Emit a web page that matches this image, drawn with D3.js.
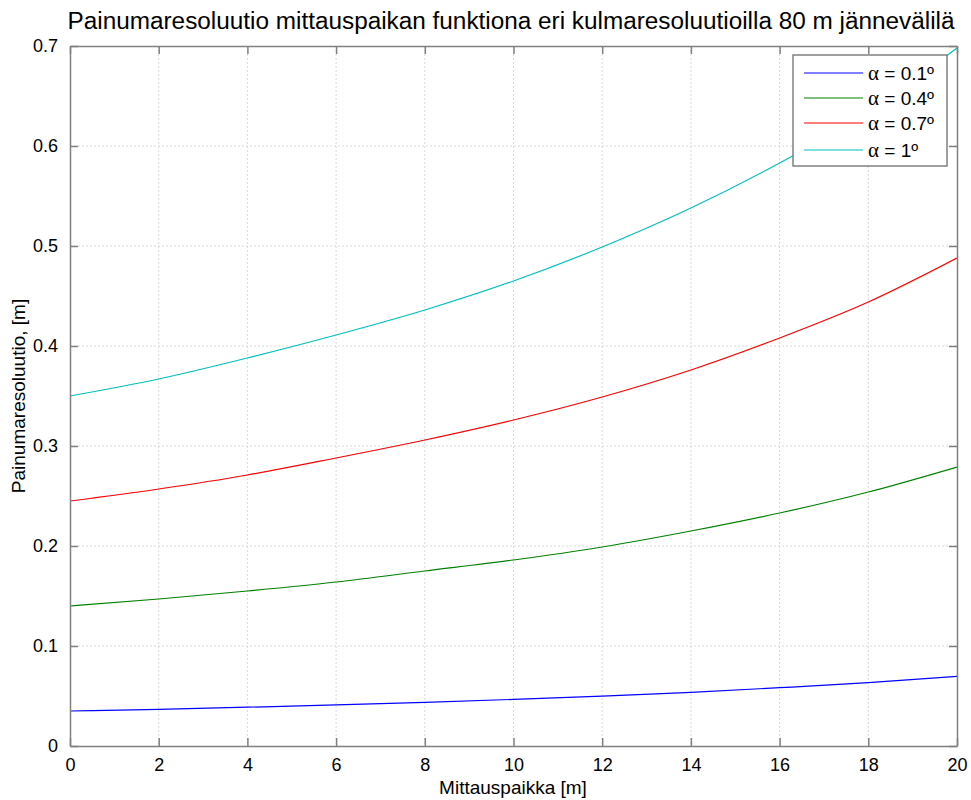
<!DOCTYPE html>
<html>
<head>
<meta charset="utf-8">
<script src="https://cdn.jsdelivr.net/npm/d3@7"></script>
<style>
  body { margin: 0; background: #fff; }
  svg { display: block; }
  text { font-family: "Liberation Sans", Arial, sans-serif; fill: #000; }
</style>
</head>
<body>
<svg id="chart" width="971" height="800"></svg>
<script>
const title = "Painumaresoluutio mittauspaikan funktiona eri kulmaresoluutioilla 80 m jännevälilä";
const xLabel = "Mittauspaikka [m]";
const yLabel = "Painumaresoluutio, [m]";
const xValues = [0, 2, 4, 6, 8, 10, 12, 14, 16, 18, 20];
const alpha01 = [0.035, 0.0367, 0.0388, 0.0411, 0.0437, 0.0466, 0.0499, 0.0537, 0.0583, 0.0634, 0.0697];
const alpha04 = [0.140, 0.147, 0.155, 0.164, 0.175, 0.186, 0.199, 0.215, 0.233, 0.254, 0.279];
const alpha07 = [0.245, 0.257, 0.271, 0.288, 0.306, 0.326, 0.349, 0.376, 0.408, 0.444, 0.488];
const alpha10 = [0.350, 0.367, 0.388, 0.411, 0.436, 0.465, 0.499, 0.538, 0.583, 0.634, 0.698];
const seriesSymbol = "α";
const seriesNames = [" = 0.1º", " = 0.4º", " = 0.7º", " = 1º"];
const seriesColors = ["#0000ff", "#008000", "#ff0000", "#00bfbf"];
const xTicks = [0, 2, 4, 6, 8, 10, 12, 14, 16, 18, 20];
const yTicks = [0, 0.1, 0.2, 0.3, 0.4, 0.5, 0.6, 0.7];

const series = [alpha01, alpha04, alpha07, alpha10];

const svg = d3.select("#chart");
const L = 70, R = 957, T = 46, B = 746;
const x = d3.scaleLinear().domain([0, 20]).range([L, R]);
const y = d3.scaleLinear().domain([0, 0.7]).range([B, T]);
const axisColor = "#808080";

// grid
const grid = svg.append("g");
grid.selectAll("line.gx").data(xTicks.slice(1, -1)).join("line")
  .attr("x1", d => x(d)).attr("x2", d => x(d)).attr("y1", T).attr("y2", B)
  .attr("stroke", "#d9d9d9").attr("stroke-width", 1).attr("stroke-dasharray", "2,2");
grid.selectAll("line.gy").data(yTicks.slice(1, -1)).join("line")
  .attr("x1", L).attr("x2", R).attr("y1", d => y(d)).attr("y2", d => y(d))
  .attr("stroke", "#d9d9d9").attr("stroke-width", 1).attr("stroke-dasharray", "2,2");

// lines
const clipId = "plotclip";
svg.append("clipPath").attr("id", clipId).append("rect")
  .attr("x", L).attr("y", T - 1).attr("width", R - L).attr("height", B - T + 2);
const line = d3.line().x((d, i) => x(xValues[i])).y(d => y(d)).curve(d3.curveMonotoneX);
svg.append("g").attr("clip-path", `url(#${clipId})`)
  .selectAll("path").data(series).join("path")
  .attr("d", d => line(d)).attr("fill", "none")
  .attr("stroke", (d, i) => seriesColors[i]).attr("stroke-width", 1.2);

// axes
const fmt = d => String(+d.toFixed(1));
const xAxisB = d3.axisBottom(x).tickValues(xTicks).tickSizeInner(-8).tickSizeOuter(0).tickPadding(12).tickFormat(fmt);
const xAxisT = d3.axisTop(x).tickValues(xTicks).tickSizeInner(-8).tickSizeOuter(0).tickFormat("");
const yAxisL = d3.axisLeft(y).tickValues(yTicks).tickSizeInner(-8).tickSizeOuter(0).tickPadding(12).tickFormat(fmt);
const yAxisR = d3.axisRight(y).tickValues(yTicks).tickSizeInner(-8).tickSizeOuter(0).tickFormat("");

function style(g) {
  g.selectAll("path.domain").attr("stroke", axisColor).attr("stroke-width", 1.5);
  g.selectAll(".tick line").attr("stroke", axisColor).attr("stroke-width", 1.5);
  g.selectAll(".tick text").attr("font-size", 18).attr("font-family", "Liberation Sans, Arial, sans-serif").attr("fill", "#000");
}
svg.append("g").attr("transform", `translate(0,${B})`).call(xAxisB).call(style);
svg.append("g").attr("transform", `translate(0,${T})`).call(xAxisT).call(style);
svg.append("g").attr("transform", `translate(${L},0)`).call(yAxisL).call(style);
svg.append("g").attr("transform", `translate(${R},0)`).call(yAxisR).call(style);

// title & labels
svg.append("text").attr("x", 511).attr("y", 29).attr("text-anchor", "middle")
  .attr("font-size", 23).attr("textLength", 887).attr("lengthAdjust", "spacingAndGlyphs").text(title);
svg.append("text").attr("x", 513).attr("y", 794).attr("text-anchor", "middle")
  .attr("font-size", 19).text(xLabel);
svg.append("text").attr("transform", `translate(25,${(T + B) / 2}) rotate(-90)`)
  .attr("text-anchor", "middle").attr("font-size", 19).text(yLabel);

// legend
const lg = svg.append("g");
lg.append("rect").attr("x", 793).attr("y", 55).attr("width", 154).attr("height", 111)
  .attr("fill", "#fff").attr("stroke", axisColor).attr("stroke-width", 1.5);
const rowY = [73, 98, 123, 150];
seriesNames.forEach((name, i) => {
  lg.append("line").attr("x1", 804).attr("x2", 863).attr("y1", rowY[i]).attr("y2", rowY[i])
    .attr("stroke", seriesColors[i]).attr("stroke-width", 1.2);
  const t = lg.append("text").attr("x", 868).attr("y", rowY[i] + 7).attr("font-size", 19);
  t.append("tspan").attr("font-family", "Liberation Serif, DejaVu Serif, serif").attr("font-size", 21).text(seriesSymbol);
  t.append("tspan").text(name);
});
</script>
</body>
</html>
